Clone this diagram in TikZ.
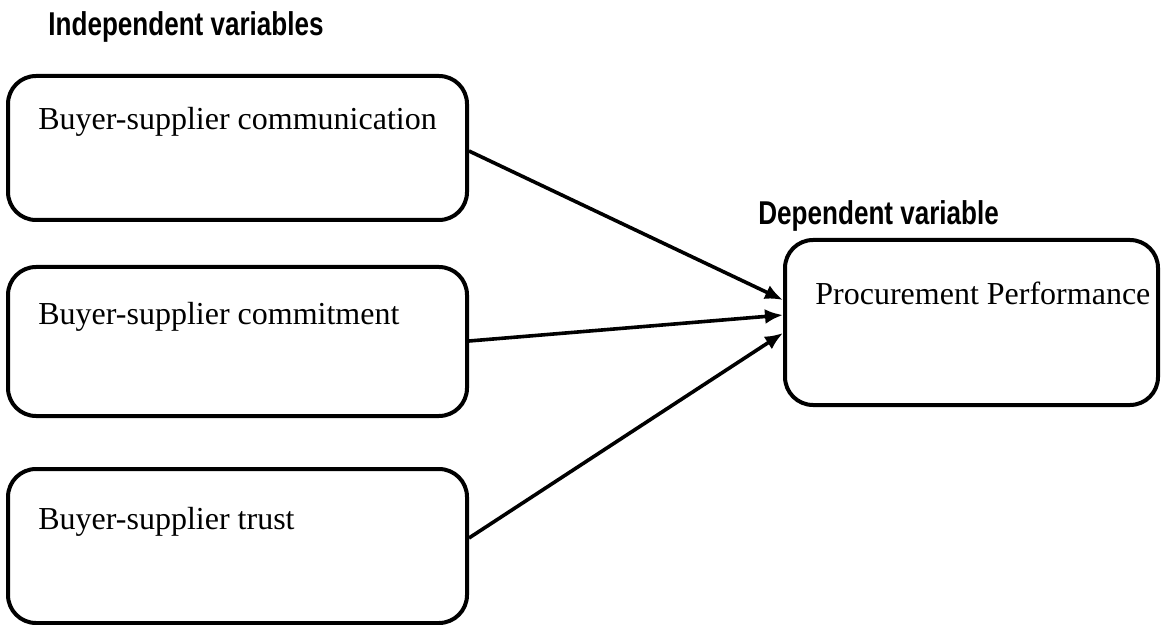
\documentclass[tikz,border=0pt]{standalone}
\usepackage{fontspec}
\setmainfont{Liberation Serif}
\newfontfamily\headfont{Liberation Sans}
\usetikzlibrary{arrows.meta,calc}
\begin{document}
\begin{tikzpicture}[x=0.5pt,y=-0.5pt,
  varbox/.style={draw=black,line width=2pt,rounded corners=14pt,inner sep=0pt},
  boxtext/.style={anchor=base west,inner sep=0pt,font=\fontsize{16pt}{19pt}\selectfont},
  headtext/.style={anchor=base west,inner sep=0pt,font=\headfont\bfseries\fontsize{16.5pt}{19pt}\selectfont},
  link/.style={line width=1.8pt,-{Latex[length=9pt,width=7.5pt]}}]
\useasboundingbox (0,0) rectangle (1165,625);
% boxes
\node[varbox,minimum width=229.5pt,minimum height=72pt] (b1) at (237.5,148) {};
\node[varbox,minimum width=229.5pt,minimum height=74.5pt] (b2) at (237.5,341.5) {};
\node[varbox,minimum width=229.5pt,minimum height=77pt] (b3) at (237.5,546) {};
\node[varbox,minimum width=186.5pt,minimum height=82.5pt] (b4) at (971.5,322.5) {};
% texts
\node[boxtext] (t1) at (38,130) {Buyer-supplier communication};
\node[boxtext] (t2) at (38,324) {Buyer-supplier commitment};
\node[boxtext] (t3) at (38,529) {Buyer-supplier trust};
\node[boxtext] (t4) at (815,305) {Procurement Performance};
\node[headtext] (h1) at (48,36) {\scalebox{0.79}[1]{Independent variables}};
\node[headtext] (h2) at (758,225) {\scalebox{0.79}[1]{Dependent variable}};
% connectors
\draw[link] ($(b1.east)+(0,3)$) -- ($(b4.west)+(0,-22.5)$);
\draw[link] ($(b2.east)+(0,-0.5)$) -- ($(b4.west)+(0,-7.5)$);
\draw[link] ($(b3.east)+(0,-8)$) -- ($(b4.west)+(0,10.5)$);
\end{tikzpicture}
\end{document}
